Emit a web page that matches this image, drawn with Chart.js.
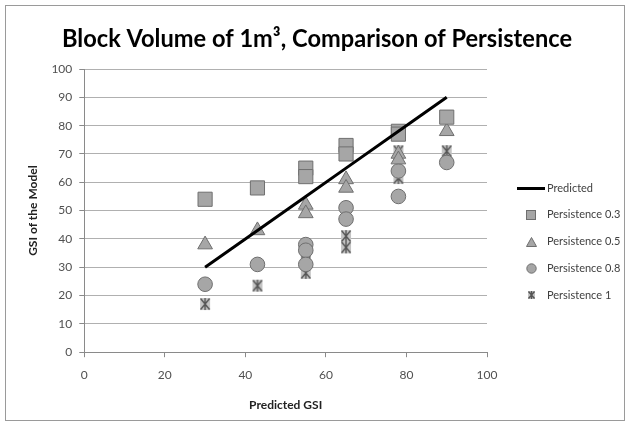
<!DOCTYPE html>
<html><head><meta charset="utf-8">
<script src="https://cdn.jsdelivr.net/npm/chart.js@4"></script>
<style>html,body{margin:0;padding:0;background:#fff}</style>
</head><body>
<canvas id="c" width="630" height="426"></canvas>
<script>
// ---- data ----
const predX = [30, 43, 55, 65, 78, 90];
const predY = [30, 43, 55, 65, 78, 90];
const p03X = [30, 43, 55, 55, 65, 65, 78, 78, 90];
const p03Y = [54, 58, 65, 62, 73, 70, 78, 77, 83];
const p05X = [30, 43, 55, 55, 65, 65, 78, 78, 90];
const p05Y = [38, 43, 52, 49, 61, 58, 70, 68, 78];
const p08X = [30, 43, 55, 55, 55, 65, 65, 78, 78, 90];
const p08Y = [24, 31, 38, 36, 31, 51, 47, 64, 55, 67];
const p1X = [30, 43, 55, 55, 65, 65, 78, 78, 90];
const p1Y = [17, 23.5, 32, 28, 41, 37, 71, 61.5, 71];
const seriesNames = ['Predicted', 'Persistence 0.3', 'Persistence 0.5', 'Persistence 0.8', 'Persistence 1'];
const titleText = 'Block Volume of 1m\u00B3, Comparison of Persistence';
const xTitle = 'Predicted GSI';
const yTitle = 'GSI of the Model';

const FILL = '#a6a6a6', EDGE = '#6f6f6f';
const pts = (xs, ys) => xs.map((x, i) => ({x, y: ys[i]}));

function mk(w, h, fn) { const c = document.createElement('canvas'); c.width = w; c.height = h; fn(c.getContext('2d'), w, h); return c; }
function drawAst(g, w, h) {
  g.fillStyle = '#c4c4c4'; g.fillRect(1, 1, w - 2, h - 2);
  g.strokeStyle = '#555'; g.lineWidth = 1.4;
  g.beginPath();
  g.moveTo(1.5, 1.5); g.lineTo(w - 1.5, h - 1.5);
  g.moveTo(w - 1.5, 1.5); g.lineTo(1.5, h - 1.5);
  g.moveTo(w / 2, 1); g.lineTo(w / 2, h - 1);
  g.stroke();
}
const astPoint = mk(12, 14, drawAst);
const legLine = mk(28, 3, (g, w, h) => { g.fillStyle = '#000'; g.fillRect(0, 0, w, h); });
const legSq = mk(10, 10, (g) => { g.fillStyle = FILL; g.fillRect(0.5, 0.5, 9, 9); g.strokeStyle = EDGE; g.lineWidth = 1; g.strokeRect(0.5, 0.5, 9, 9); });
const legTri = mk(11, 10, (g) => { g.fillStyle = FILL; g.strokeStyle = EDGE; g.beginPath(); g.moveTo(5.5, 0.5); g.lineTo(10.5, 9.5); g.lineTo(0.5, 9.5); g.closePath(); g.fill(); g.stroke(); });
const legCirc = mk(11, 11, (g) => { g.fillStyle = FILL; g.strokeStyle = EDGE; g.beginPath(); g.arc(5.5, 5.5, 4.7, 0, Math.PI * 2); g.fill(); g.stroke(); });
const legAst = mk(9, 10, drawAst);
const legImgs = [legLine, legSq, legTri, legCirc, legAst];

const frame = {
  id: 'frame',
  beforeDraw(chart) {
    const g = chart.ctx; g.save();
    g.fillStyle = '#fff'; g.fillRect(0, 0, chart.width, chart.height);
    g.strokeStyle = '#9a9a9a'; g.lineWidth = 1;
    g.strokeRect(5.5, 5.5, 619, 415);
    g.restore();
  }
};

const headAndLegend = {
  id: 'headAndLegend',
  afterDraw(chart) {
    const g = chart.ctx; g.save();
    // title
    g.font = 'bold 24px Lato';
    g.fillStyle = '#000';
    g.textAlign = 'center';
    g.textBaseline = 'middle';
    g.fillText(titleText, 317, 39, 510);
    // legend
    const symX = chart.chartArea.right + 44;
    const textX = chart.chartArea.right + 60;
    const y0 = 188, dy = 26.8;
    g.font = '11px Lato';
    g.fillStyle = '#404040';
    g.textAlign = 'left';
    chart.data.datasets.forEach((d, i) => {
      const y = y0 + i * dy;
      const img = legImgs[i];
      g.drawImage(img, Math.round(symX - img.width / 2), Math.round(y - img.height / 2));
      g.fillText(d.label, textX, y);
    });
    g.restore();
  }
};

const common = { showLine: false, backgroundColor: FILL, borderColor: EDGE, borderWidth: 1 };

new Chart(document.getElementById('c'), {
  type: 'scatter',
  data: {
    datasets: [
      { label: seriesNames[0], data: pts(predX, predY), showLine: true, borderColor: '#000', borderWidth: 3, pointRadius: 0, pointHoverRadius: 0, backgroundColor: '#000' },
      { ...common, label: seriesNames[1], data: pts(p03X, p03Y), pointStyle: 'rect', pointRadius: 10 },
      { ...common, label: seriesNames[2], data: pts(p05X, p05Y), pointStyle: 'triangle', pointRadius: 8.5 },
      { ...common, label: seriesNames[3], data: pts(p08X, p08Y), pointStyle: 'circle', pointRadius: 7.3 },
      { ...common, label: seriesNames[4], data: pts(p1X, p1Y), pointStyle: astPoint, pointRadius: 7 }
    ]
  },
  options: {
    responsive: false,
    animation: false,
    devicePixelRatio: 1,
    layout: { padding: { left: 20, right: 143, top: 69, bottom: 10 } },
    plugins: {
      tooltip: { enabled: false },
      legend: { display: false },
      title: { display: false }
    },
    scales: {
      x: {
        type: 'linear', min: 0, max: 100,
        ticks: { stepSize: 20, color: '#505050', font: { family: 'Lato', size: 12 }, padding: 11 },
        grid: { drawOnChartArea: false, drawTicks: true, tickLength: 5, color: '#8a8a8a' },
        border: { color: '#8a8a8a' },
        title: { display: true, text: xTitle, color: '#222', font: { family: 'Lato', size: 12, weight: 'bold' }, padding: { top: 4, bottom: 4 } }
      },
      y: {
        type: 'linear', min: 0, max: 100,
        ticks: { stepSize: 10, color: '#505050', font: { family: 'Lato', size: 12 }, padding: 7 },
        grid: { color: '#b0b0b0', tickLength: 5, tickColor: '#8a8a8a' },
        border: { color: '#8a8a8a' },
        title: { display: true, text: yTitle, color: '#222', font: { family: 'Lato', size: 12, weight: 'bold' }, padding: { top: 6, bottom: 4 } }
      }
    }
  },
  plugins: [frame, headAndLegend]
});
</script>
</body></html>
